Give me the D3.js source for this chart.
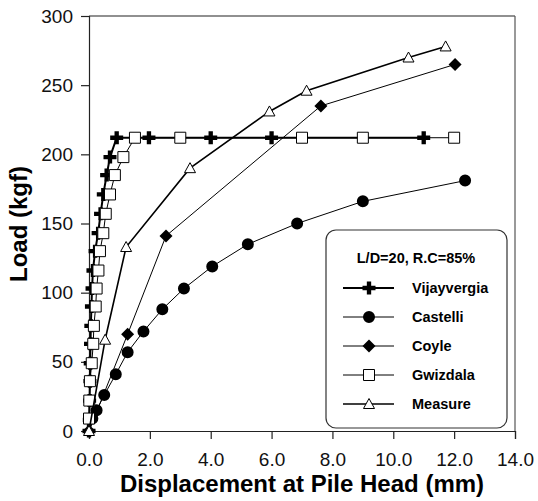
<!DOCTYPE html>
<html lang="en">
  <head>
   <meta http-equiv="Content-Type" content="text/html;charset=utf-8">
   <title>Load displacement</title>
   <script type="text/javascript" src="https://cdn.jsdelivr.net/npm/d3@7/dist/d3.min.js"></script>
   <style>
     body { margin: 0; background: white; }
     text { font-family: "Liberation Sans", Arial, sans-serif; }
   </style>
  </head>

  <body>
<script>

// values (displacement mm, load kgf)
var vijayDisp = [0, 0.01, 0.02, 0.03, 0.04, 0.05, 0.06, 0.08, 0.1, 0.13, 0.2, 0.3, 0.38, 0.47, 0.58, 0.69, 0.91, 1.97, 4.0, 6.0, 11.0]
var vijayLoad = [0, 8, 22, 36, 49, 63, 76, 90, 103, 116, 130, 143, 157, 171, 185, 198, 212, 212, 212, 212, 212]

var castDisp = [0.11, 0.25, 0.5, 0.88, 1.27, 1.79, 2.41, 3.12, 4.05, 5.22, 6.84, 9.0, 12.36]
var castLoad = [9, 15, 26, 41, 57, 72, 88, 103, 119, 135, 150, 166, 181]

var coyleDisp = [0, 1.27, 2.53, 7.62, 12.03]
var coyleLoad = [0, 70, 141, 235, 265]

var gwizDisp = [0, 0.01, 0.03, 0.09, 0.14, 0.16, 0.22, 0.25, 0.31, 0.36, 0.47, 0.55, 0.69, 0.85, 1.13, 1.51, 3.0, 7.0, 9.0, 12.0]
var gwizLoad = [9, 22, 36, 49, 63, 76, 90, 103, 116, 130, 143, 157, 171, 185, 198, 212, 212, 212, 212, 212]

var measDisp = [0, 0.53, 1.22, 3.32, 5.93, 7.15, 10.5, 11.72]
var measLoad = [0, 66, 133, 190, 231, 246, 270, 278]

var seriesNames = ["Vijayvergia", "Castelli", "Coyle", "Gwizdala", "Measure"]
var xTicks = [0, 2, 4, 6, 8, 10, 12, 14]
var yTicks = [0, 50, 100, 150, 200, 250, 300]
var legendTitle = "L/D=20, R.C=85%"

var width = 538
var height = 501

var x = d3.scaleLinear().domain([0, 14]).range([89, 515])
var y = d3.scaleLinear().domain([0, 300]).range([431, 16])

var svg = d3.select("body").append("svg")
  .attr("width", width)
  .attr("height", height)

// frame: top and right lines
svg.append("line").attr("x1", x(0)).attr("x2", x(14)).attr("y1", y(300)).attr("y2", y(300))
  .attr("stroke", "#222").attr("stroke-width", 1.2)
svg.append("line").attr("x1", x(14)).attr("x2", x(14)).attr("y1", y(300)).attr("y2", y(0))
  .attr("stroke", "#555").attr("stroke-width", 1.2)

var xAxis = svg.append("g").attr("transform", "translate(0," + y(0) + ")")
  .call(d3.axisBottom(x).tickValues(xTicks).tickFormat(d3.format(".1f")).tickSize(8).tickPadding(14))
var yAxis = svg.append("g").attr("transform", "translate(" + x(0) + ",0)")
  .call(d3.axisLeft(y).tickValues(yTicks).tickSize(8).tickPadding(8))

svg.selectAll(".domain").attr("stroke", "#222").attr("stroke-width", 1.2)
svg.selectAll(".tick line").attr("stroke", "#222").attr("stroke-width", 1.2)
svg.selectAll(".tick text").attr("font-size", 19).attr("fill", "#111")
  .style("font-family", "Liberation Sans, Arial, sans-serif")

svg.append("text").attr("x", 302).attr("y", 492).attr("text-anchor", "middle")
  .attr("font-size", 24).attr("font-weight", "bold").text("Displacement at Pile Head (mm)")
svg.append("text").attr("transform", "translate(27,224) rotate(-90)").attr("text-anchor", "middle")
  .attr("font-size", 24).attr("font-weight", "bold").text("Load (kgf)")

// marker shapes
var crossPath = d3.symbol().type(d3.symbolCross).size(94)()
var circlePath = d3.symbol().type(d3.symbolCircle).size(113)()
var diamondPath = "M0,-6.5L6.5,0L0,6.5L-6.5,0Z"
var squarePath = "M-5.5,-5.5H5.5V5.5H-5.5Z"
var trianglePath = "M0,-5.5L5.5,4.5H-5.5Z"

var series = [
  {name: seriesNames[0], xs: vijayDisp, ys: vijayLoad, lw: 2, path: crossPath, fill: "black", stroke: "none"},
  {name: seriesNames[1], xs: castDisp, ys: castLoad, lw: 1, path: circlePath, fill: "black", stroke: "none"},
  {name: seriesNames[2], xs: coyleDisp, ys: coyleLoad, lw: 1, path: diamondPath, fill: "black", stroke: "none"},
  {name: seriesNames[3], xs: gwizDisp, ys: gwizLoad, lw: 1, path: squarePath, fill: "white", stroke: "black"},
  {name: seriesNames[4], xs: measDisp, ys: measLoad, lw: 1.6, path: trianglePath, fill: "white", stroke: "black"}
]

var line = d3.line().x(function(d){return x(d[0])}).y(function(d){return y(d[1])})

series.forEach(function(s){
  var pts = s.xs.map(function(v, i){return [v, s.ys[i]]})
  svg.append("path").datum(pts).attr("d", line)
    .attr("fill", "none").attr("stroke", "black").attr("stroke-width", s.lw)
  svg.selectAll(null).data(pts).enter().append("path")
    .attr("d", s.path)
    .attr("transform", function(d){return "translate(" + x(d[0]) + "," + y(d[1]) + ")"})
    .attr("fill", s.fill).attr("stroke", s.stroke).attr("stroke-width", 1)
})

// legend box
var lg = svg.append("g")
lg.append("rect").attr("x", 326).attr("y", 230).attr("width", 181).attr("height", 198)
  .attr("rx", 10).attr("fill", "white").attr("stroke", "#333").attr("stroke-width", 1.2)
lg.append("text").attr("x", 416).attr("y", 263).attr("text-anchor", "middle")
  .attr("font-size", 14.5).attr("font-weight", "bold").text(legendTitle)

series.forEach(function(s, i){
  var ly = 288 + i * 29
  lg.append("line").attr("x1", 343).attr("x2", 394).attr("y1", ly).attr("y2", ly)
    .attr("stroke", "black").attr("stroke-width", s.lw)
  lg.append("path").attr("d", s.path).attr("transform", "translate(369," + ly + ")")
    .attr("fill", s.fill).attr("stroke", s.stroke).attr("stroke-width", 1)
  lg.append("text").attr("x", 412).attr("y", ly + 5).attr("font-size", 14.5)
    .attr("font-weight", "bold").text(s.name)
})

</script>

</body>
</html>
